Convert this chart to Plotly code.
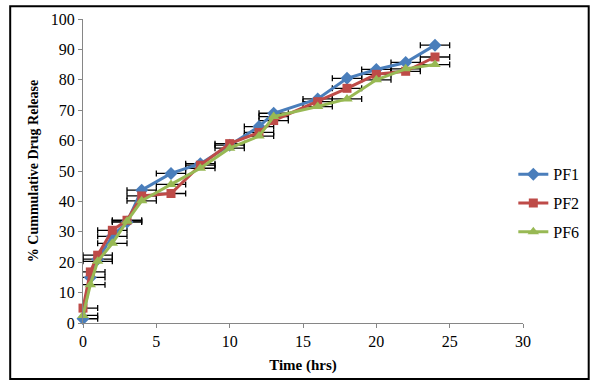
import plotly.graph_objects as go

time_hrs = [0, 0.5, 1, 2, 3, 4, 6, 8, 10, 12, 13, 16, 18, 20, 22, 24]
pf1 = [1.4, 15.0, 21.0, 28.5, 33.2, 43.7, 49.2, 52.4, 58.5, 64.6, 69.0, 73.7, 80.5, 83.4, 85.7, 91.4]
pf2 = [4.9, 16.8, 22.3, 30.5, 33.8, 41.8, 42.6, 51.9, 59.0, 62.7, 66.6, 72.8, 77.2, 81.8, 82.8, 87.5]
pf6 = [2.5, 12.6, 20.3, 26.2, 33.5, 40.2, 45.6, 50.9, 57.5, 61.5, 67.9, 71.2, 73.7, 80.0, 83.6, 85.0]
time_err = [1] * len(time_hrs)

series = [
    ("PF1", pf1, "#4A7EBB", "diamond", 10),
    ("PF2", pf2, "#BE4B48", "square", 9),
    ("PF6", pf6, "#98B954", "triangle-up", 10),
]

fig = go.Figure()
# error bars (clipped at the axes, like the original)
for name, vals, color, sym, size in series:
    fig.add_trace(go.Scatter(
        x=time_hrs, y=vals, mode="markers", showlegend=False, hoverinfo="skip",
        marker=dict(size=1, opacity=0),
        error_x=dict(type="data", array=time_err, color="black", thickness=1.3, width=3),
        cliponaxis=True,
    ))
for name, vals, color, sym, size in series:
    fig.add_trace(go.Scatter(
        x=time_hrs, y=vals, name=name, mode="lines+markers",
        legendgroup=name,
        line=dict(color=color, width=3),
        marker=dict(symbol=sym, size=size, color=color),
        cliponaxis=False,
    ))

font = "Liberation Serif"
fig.update_layout(
    width=600, height=386,
    margin=dict(l=83.3, r=76.7, t=19.3, b=63.3),
    paper_bgcolor="white", plot_bgcolor="white",
    font=dict(family=font, size=15, color="black"),
    showlegend=True,
    legend=dict(x=0.978, y=0.545, xanchor="left", yanchor="top",
                font=dict(family=font, size=16, color="black"),
                bgcolor="rgba(0,0,0,0)", tracegroupgap=5, itemwidth=30),
    xaxis=dict(range=[0, 30], tickmode="linear", tick0=0, dtick=5,
               showgrid=False, zeroline=False, showline=True, linecolor="#868686", linewidth=1,
               ticks="outside", ticklen=4, tickcolor="#868686",
               tickfont=dict(family=font, size=16),
               title=dict(text="<b>Time (hrs)</b>", font=dict(family=font, size=15), standoff=10)),
    yaxis=dict(range=[0, 100], tickmode="linear", tick0=0, dtick=10,
               showgrid=False, zeroline=False, showline=True, linecolor="#868686", linewidth=1,
               ticks="outside", ticklen=4, tickcolor="#868686",
               tickfont=dict(family=font, size=16),
               title=dict(text="<b>% Cummulative Drug Release</b>", font=dict(family=font, size=14), standoff=8)),
    shapes=[dict(type="rect", xref="paper", yref="paper",
                 x0=(10.5 - 83.3) / 440, x1=(589 - 83.3) / 440,
                 y0=(322.7 - 378.5) / 303.4, y1=(322.7 - 6.5) / 303.4,
                 line=dict(color="black", width=2), fillcolor="rgba(0,0,0,0)", layer="below")],
)

fig.write_html("out.html", config={"displayModeBar": False},
               post_script="document.body.style.margin='0';")
